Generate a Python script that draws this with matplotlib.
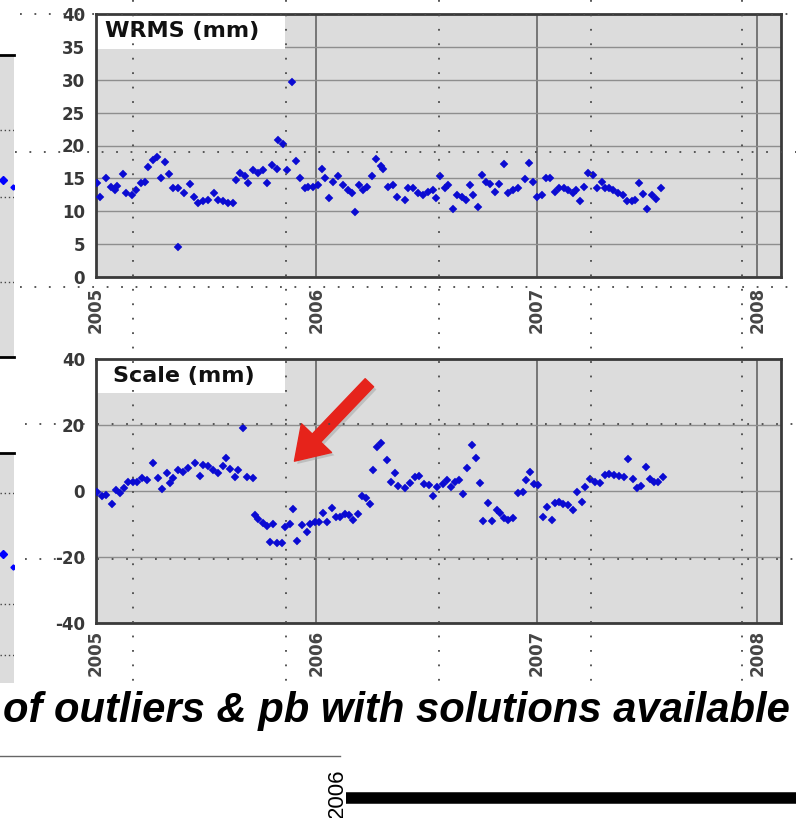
import matplotlib
matplotlib.use('Agg')
import matplotlib.pyplot as plt
from matplotlib.lines import Line2D
from matplotlib.patches import Rectangle
from matplotlib import patheffects as pe

# ---------------- data ----------------
year_ticks = [2005, 2006, 2007, 2008]
wrms_yticks = [0, 5, 10, 15, 20, 25, 30, 35, 40]
scale_yticks = [-40, -20, 0, 20, 40]

wrms_t = [2005.006, 2005.018, 2005.045, 2005.067, 2005.086, 2005.097, 2005.121, 2005.136, 2005.162, 2005.181,
          2005.203, 2005.222, 2005.237, 2005.260, 2005.278, 2005.293, 2005.313, 2005.332, 2005.348, 2005.371,
          2005.373, 2005.400, 2005.426, 2005.444, 2005.464, 2005.487, 2005.509, 2005.535, 2005.555, 2005.575,
          2005.600, 2005.620, 2005.635, 2005.653, 2005.676, 2005.691, 2005.713, 2005.736, 2005.759, 2005.774,
          2005.797, 2005.820, 2005.827, 2005.849, 2005.868, 2005.888, 2005.906, 2005.925, 2005.948, 2005.963,
          2005.985, 2006.008, 2006.024, 2006.039, 2006.058, 2006.077, 2006.099, 2006.122, 2006.144, 2006.160,
          2006.175, 2006.194, 2006.212, 2006.228, 2006.250, 2006.270, 2006.291, 2006.303, 2006.326, 2006.348,
          2006.366, 2006.401, 2006.416, 2006.439, 2006.462, 2006.484, 2006.507, 2006.530, 2006.542, 2006.560,
          2006.583, 2006.598, 2006.618, 2006.636, 2006.658, 2006.678, 2006.696, 2006.711, 2006.734, 2006.749,
          2006.769, 2006.787, 2006.810, 2006.829, 2006.850, 2006.870, 2006.893, 2006.915, 2006.946, 2006.965,
          2006.983, 2007.001, 2007.021, 2007.041, 2007.059, 2007.082, 2007.101, 2007.122, 2007.142, 2007.162,
          2007.177, 2007.195, 2007.213, 2007.233, 2007.253, 2007.271, 2007.293, 2007.308, 2007.328, 2007.346,
          2007.369, 2007.389, 2007.407, 2007.429, 2007.444, 2007.464, 2007.482, 2007.501, 2007.520, 2007.540,
          2007.561]
wrms_v = [14.3, 12.2, 15.0, 13.7, 13.2, 13.8, 15.6, 12.8, 12.5, 13.2,
          14.3, 14.5, 16.8, 17.8, 18.3, 15.0, 17.5, 15.7, 13.6, 4.5,
          13.5, 12.7, 14.2, 12.2, 11.2, 11.5, 11.7, 12.7, 11.7, 11.5,
          11.2, 11.2, 14.8, 15.8, 15.3, 14.3, 16.2, 15.8, 16.3, 14.3,
          17.0, 16.4, 20.8, 20.3, 16.3, 29.7, 17.7, 15.0, 13.6, 13.7,
          13.7, 14.0, 16.5, 15.0, 12.0, 14.5, 15.3, 14.0, 13.2, 12.7,
          9.9, 14.0, 13.2, 13.7, 15.3, 17.9, 16.9, 16.5, 13.7, 14.0,
          12.2, 11.7, 13.5, 13.5, 12.7, 12.5, 13.0, 13.2, 12.0, 15.3,
          13.5, 14.0, 10.4, 12.5, 12.2, 11.7, 14.0, 12.5, 10.7, 15.5,
          14.5, 14.2, 13.0, 14.2, 17.2, 12.8, 13.3, 13.5, 14.9, 17.3,
          14.5, 12.2, 12.5, 15.0, 15.0, 13.0, 13.5, 13.5, 13.2, 12.7,
          13.2, 11.5, 13.7, 15.8, 15.5, 13.5, 14.5, 13.5, 13.5, 13.2,
          12.8, 12.5, 11.5, 11.5, 11.7, 14.3, 12.6, 10.3, 12.5, 11.8,
          13.5]

scale_t = [2005.006, 2005.026, 2005.045, 2005.071, 2005.091, 2005.109, 2005.127, 2005.146, 2005.166, 2005.187,
           2005.207, 2005.230, 2005.260, 2005.283, 2005.301, 2005.321, 2005.336, 2005.351, 2005.373, 2005.396,
           2005.419, 2005.449, 2005.472, 2005.487, 2005.509, 2005.532, 2005.555, 2005.575, 2005.590, 2005.608,
           2005.630, 2005.645, 2005.665, 2005.683, 2005.713, 2005.721, 2005.736, 2005.759, 2005.774, 2005.789,
           2005.804, 2005.822, 2005.842, 2005.857, 2005.880, 2005.895, 2005.913, 2005.933, 2005.956, 2005.971,
           2005.993, 2006.013, 2006.031, 2006.046, 2006.069, 2006.088, 2006.107, 2006.129, 2006.149, 2006.167,
           2006.190, 2006.205, 2006.224, 2006.243, 2006.258, 2006.273, 2006.291, 2006.318, 2006.336, 2006.356,
           2006.371, 2006.401, 2006.424, 2006.447, 2006.466, 2006.488, 2006.512, 2006.530, 2006.548, 2006.572,
           2006.590, 2006.609, 2006.628, 2006.648, 2006.663, 2006.684, 2006.704, 2006.723, 2006.741, 2006.756,
           2006.779, 2006.795, 2006.817, 2006.832, 2006.850, 2006.870, 2006.893, 2006.915, 2006.935, 2006.950,
           2006.968, 2006.986, 2007.006, 2007.026, 2007.047, 2007.067, 2007.082, 2007.101, 2007.119, 2007.142,
           2007.162, 2007.183, 2007.203, 2007.218, 2007.240, 2007.263, 2007.286, 2007.308, 2007.328, 2007.349,
           2007.373, 2007.395, 2007.414, 2007.434, 2007.455, 2007.470, 2007.494, 2007.512, 2007.531, 2007.550,
           2007.570]
scale_v = [-0.5, -1.7, -1.2, -3.9, 0.3, -0.7, 0.8, 2.8, 2.8, 2.8,
           3.8, 3.3, 8.4, 3.8, 0.5, 5.4, 2.5, 3.8, 6.4, 5.8,
           6.9, 8.6, 4.5, 7.9, 7.4, 6.4, 5.4, 7.4, 10.1, 6.6,
           4.3, 6.4, 19.0, 4.3, 3.8, -7.3, -8.6, -9.8, -10.8, -15.4,
           -10.0, -15.9, -15.9, -11.0, -10.0, -5.6, -15.1, -10.3, -12.6, -10.0,
           -9.6, -9.6, -6.8, -9.3, -5.2, -7.8, -7.8, -7.0, -7.3, -8.8,
           -7.0, -1.7, -2.2, -3.9, 6.4, 13.4, 14.4, 9.4, 2.8, 5.5,
           1.5, 0.8, 2.5, 4.3, 4.5, 2.1, 1.8, -1.5, 1.1, 2.1,
           3.3, 1.1, 2.8, 3.3, -0.9, 6.9, 13.9, 9.9, 2.3, -9.0,
           -3.7, -9.0, -5.8, -6.6, -8.3, -8.8, -8.3, -0.7, -0.5, 3.3,
           5.8, 2.1, 1.8, -8.0, -4.9, -8.8, -3.7, -3.5, -3.9, -4.2,
           -5.8, -0.5, -3.5, 1.1, 3.5, 2.8, 2.3, 4.8, 5.2, 4.8,
           4.5, 4.3, 9.6, 3.5, 0.8, 1.5, 7.2, 3.5, 2.8, 2.8,
           4.3]

# fragments of the neighbouring (cropped) chart on the left edge
frag1_x = [0.21, 0.93]
frag1_y = [0.586, 0.563]
frag1_grid = [0.752, 0.530, 0.248]
frag2_x = [0.21, 0.93]
frag2_y = [0.561, 0.504]
frag2_grid = [0.826, 0.343, 0.122]

title_text = "of outliers & pb with solutions available"

# ---------------- layout helpers ----------------
W, H = 796, 818
plt.rcParams['font.family'] = ['DejaVu Sans']
fig = plt.figure(figsize=(W / 100, H / 100), dpi=100)
fig.patch.set_facecolor('white')


def fx(px):
    return px / W


def fy(py):
    return 1 - py / H


def axes_px(left, top, right, bottom, **kw):
    return fig.add_axes([fx(left), fy(bottom), (right - left) / W, (bottom - top) / H], **kw)


def fig_line(x0, y0, x1, y1, **kw):
    ln = Line2D([fx(x0), fx(x1)], [fy(y0), fy(y1)], transform=fig.transFigure, **kw)
    fig.add_artist(ln)
    return ln


MARK = '#0b0bd2'

# ---------------- main panels ----------------
ax1 = axes_px(96, 14, 781, 277)
ax2 = axes_px(96, 359, 781, 622.7)

panels = [
    (ax1, wrms_t, wrms_v, wrms_yticks, (0, 40), 'WRMS (mm)', 105, 0.867, 7),
    (ax2, scale_t, scale_v, scale_yticks, (-40, 40), 'Scale (mm)', 113, 0.871, 5),
]

for ax, t, v, yt, ylim, label, lab_x, box_y, xpad in panels:
    ax.set_facecolor('#dcdcdc')
    ax.set_xlim(2005.0, 2008.107)
    ax.set_ylim(*ylim)
    ax.set_xticks(year_ticks)
    ax.set_xticklabels([str(y) for y in year_ticks], rotation=90,
                       fontsize=12, fontweight='bold', color='#454545')
    ax.set_yticks(yt)
    ax.set_yticklabels([str(y) for y in yt], fontsize=12, fontweight='bold', color='#383838')
    ax.tick_params(axis='both', length=0)
    ax.tick_params(axis='y', pad=8)
    ax.tick_params(axis='x', pad=xpad)
    ax.set_axisbelow(True)
    ax.grid(True, axis='y', color='#8e8e8e', lw=1.0)
    ax.grid(True, axis='x', color='#6e6e6e', lw=1.3)
    for s in ax.spines.values():
        s.set_color('#3a3a3a')
        s.set_linewidth(2)
    ax.add_patch(Rectangle((0, box_y), 0.276, 1 - box_y, transform=ax.transAxes,
                           facecolor='white', edgecolor='none', zorder=1.5))
    ax.text((lab_x - 96) / 685, (1 + box_y) / 2, label, transform=ax.transAxes,
            fontsize=16, fontweight='bold', color='#111111', ha='left', va='center', zorder=2)
    ax.plot(t, v, 'D', ms=4.1, color=MARK, mec=MARK, mew=0.3, zorder=3)

# red arrow pointing at the gap in the Scale series
ax2.annotate('', xy=(2005.900, 9.0), xytext=(2006.240, 32.8),
             arrowprops=dict(arrowstyle='simple,head_length=1.15,head_width=1.5,tail_width=0.42',
                             color='#e6231b', shrinkA=0, shrinkB=0, mutation_scale=20,
                             path_effects=[pe.SimplePatchShadow(offset=(2, -2), shadow_rgbFace='#9a9a9a', alpha=0.45),
                                           pe.Normal()]),
             annotation_clip=False, zorder=6)

# ---------------- left-edge fragments ----------------
for (top, bottom, xs, ys, grid, bottom_line) in [(55, 357, frag1_x, frag1_y, frag1_grid, True),
                                                 (453, 683, frag2_x, frag2_y, frag2_grid, False)]:
    fa = axes_px(0, top, 14, bottom)
    fa.set_facecolor('#dcdcdc')
    fa.set_xlim(0, 1)
    fa.set_ylim(0, 1)
    fa.set_xticks([])
    fa.set_yticks([])
    for k in ('left', 'right'):
        fa.spines[k].set_visible(False)
    fa.spines['top'].set_color('black')
    fa.spines['top'].set_linewidth(2)
    fa.spines['bottom'].set_visible(bottom_line)
    fa.spines['bottom'].set_color('black')
    fa.spines['bottom'].set_linewidth(2)
    for g in grid:
        fa.axhline(g, color='#444444', lw=1, ls=(0, (1, 2)))
    fa.plot(xs[:1], ys[:1], 'D', ms=4.2, color='#0000ff', mec='#0000ff')
    fa.plot(xs[1:], ys[1:], 'D', ms=2.6, color='#0000ff', mec='#0000ff')

# ---------------- background dotted guide lines ----------------
dot = dict(color='#4a4a4a', lw=1.3, ls=(0, (1, 7)), zorder=4)
for x in [133, 286, 439, 591, 742]:
    fig_line(x, 0, x, 690, **dot)
for y, x0 in [(14, 20), (152, 15), (287, 20), (424, 25), (559, 25)]:
    fig_line(x0, y, 796, y, **dot)

# ---------------- slide text below ----------------
fig.text(fx(3), fy(722), title_text, fontsize=30.1, fontweight='bold', fontstyle='italic',
         family=['Liberation Sans', 'DejaVu Sans'], ha='left', va='baseline', color='black')
fig_line(0, 756, 340, 756, color='#666666', lw=1)
fig.text(fx(337.5), fy(768), '2006', rotation=90, ha='center', va='top', fontsize=16,
         family=['Liberation Sans', 'DejaVu Sans'], color='black')
fig_line(346, 797.5, 800, 797.5, color='black', lw=8.3, solid_capstyle='butt')

fig.savefig('out.png', dpi=100, facecolor='white')
